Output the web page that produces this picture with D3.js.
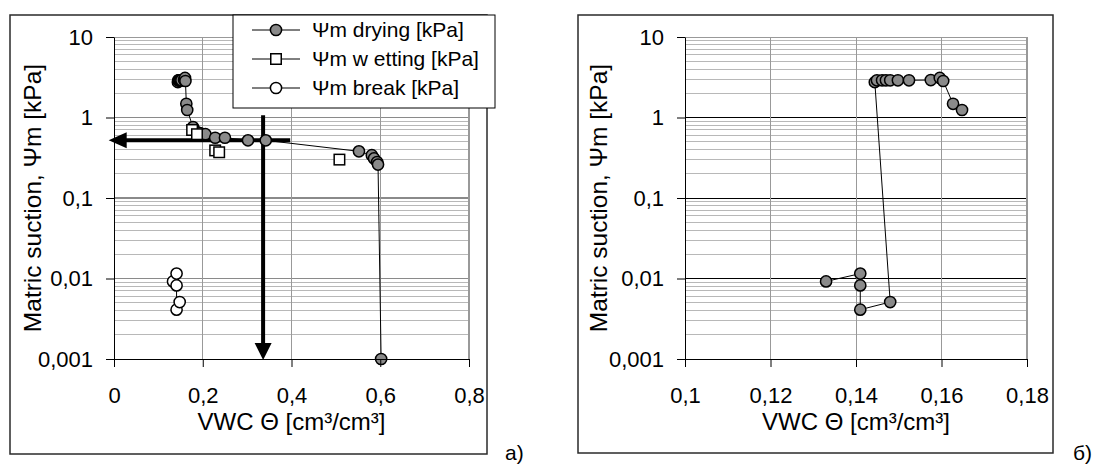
<!DOCTYPE html>
<html><head><meta charset="utf-8">
<script src="https://cdn.jsdelivr.net/npm/d3@7"></script>
<style>
body{margin:0;background:#fff}
svg{display:block}
text{font-family:"Liberation Sans",Arial,sans-serif;fill:#000}
</style>
</head><body>
<svg id="c" width="1098" height="466"></svg>
<script>
// ---- tick values & labels ----
const yTickValues = [0.001, 0.01, 0.1, 1, 10];
const yTickLabels = ["0,001", "0,01", "0,1", "1", "10"];
const leftXTickValues = [0, 0.2, 0.4, 0.6, 0.8];
const leftXTickLabels = ["0", "0,2", "0,4", "0,6", "0,8"];
const rightXTickValues = [0.1, 0.12, 0.14, 0.16, 0.18];
const rightXTickLabels = ["0,1", "0,12", "0,14", "0,16", "0,18"];
const minorMultipliers = [2, 3, 4, 5, 6, 7, 8, 9];

// ---- legend / titles ----
const seriesNames = ["Ψm drying [kPa]", "Ψm w etting [kPa]", "Ψm break [kPa]"];
const xTitle = "VWC Θ [cm³/cm³]";
const yTitle = "Matric suction, Ψm [kPa]";
const panelTags = ["а)", "б)"];

// ---- panel a) series ----
const dryingX = [0.144, 0.145, 0.146, 0.147, 0.148, 0.150, 0.152, 0.158, 0.160, 0.161, 0.163, 0.165,
                 0.178, 0.183, 0.194, 0.206, 0.228, 0.250, 0.302, 0.342, 0.552, 0.581, 0.586, 0.593, 0.595, 0.602];
const dryingY = [2.75, 2.90, 2.90, 2.90, 2.90, 2.90, 2.90, 2.92, 3.10, 2.84, 1.48, 1.24,
                 0.76, 0.68, 0.64, 0.62, 0.56, 0.56, 0.52, 0.52, 0.38, 0.34, 0.31, 0.28, 0.26, 0.001];
const wettingX = [0.176, 0.187, 0.228, 0.237, 0.508];
const wettingY = [0.70, 0.62, 0.39, 0.37, 0.30];
const breakX = [0.133, 0.141, 0.141, 0.141, 0.148];
const breakY = [0.0092, 0.0115, 0.0082, 0.0041, 0.0051];

// ---- panel a) arrows (annotation, data coords) ----
const arrowVertX = [0.336, 0.336];
const arrowVertY = [1.07, 0.001];
const arrowHorX = [0.397, -0.012];
const arrowHorY = [0.52, 0.52];

// ---- panel б) series ----
const zoomX = [0.133, 0.141, 0.141, 0.141, 0.148,
               0.1444, 0.1449, 0.1461, 0.1470, 0.1480, 0.1498, 0.1524, 0.1575, 0.1596, 0.1604, 0.1627, 0.1648];
const zoomY = [0.0092, 0.0115, 0.0082, 0.0041, 0.0051,
               2.75, 2.90, 2.90, 2.90, 2.90, 2.90, 2.90, 2.92, 3.10, 2.84, 1.48, 1.24];

const svg = d3.select("#c");
const GRAY_FILL = "#8a8a8a";

function zip(xs, ys){ return xs.map((x,i)=>({x, y: ys[i]})); }

function drawPanel(cfg){
  const g = svg.append("g");
  // frame
  g.append("rect").attr("x", cfg.frame[0]).attr("y", cfg.frame[1])
    .attr("width", cfg.frame[2]-cfg.frame[0]).attr("height", cfg.frame[3]-cfg.frame[1])
    .attr("fill", "#fff").attr("stroke", "#2a2a2a").attr("stroke-width", 1.5);

  const x = d3.scaleLinear().domain(cfg.xDomain).range([cfg.plot[0], cfg.plot[1]]);
  const y = d3.scaleLog().domain([0.001, 10]).range([cfg.plot[3], cfg.plot[2]]);

  const grid = g.append("g").attr("shape-rendering", "crispEdges");
  // minor horizontal gridlines
  const minors = [];
  yTickValues.slice(0, -1).forEach(d => minorMultipliers.forEach(k => minors.push(d*k)));
  grid.selectAll("line.mi").data(minors).join("line")
    .attr("x1", cfg.plot[0]).attr("x2", cfg.plot[1])
    .attr("y1", d => y(d)).attr("y2", d => y(d))
    .attr("stroke", "#b8b8b8").attr("stroke-width", 1);
  // decade gridlines
  grid.selectAll("line.ma").data(yTickValues.slice(1)).join("line")
    .attr("x1", cfg.plot[0]).attr("x2", cfg.plot[1])
    .attr("y1", d => y(d)).attr("y2", d => y(d))
    .attr("stroke", d => d === 10 ? "#999" : cfg.decadeColor)
    .attr("stroke-width", d => d === 10 ? 1 : cfg.decadeWidth);
  // vertical gridlines
  grid.selectAll("line.v").data(cfg.xTicks.slice(1)).join("line")
    .attr("x1", d => x(d)).attr("x2", d => x(d))
    .attr("y1", cfg.plot[2]).attr("y2", cfg.plot[3])
    .attr("stroke", "#999").attr("stroke-width", (d,i,n) => i === n.length-1 ? 2 : 1);

  const line = d3.line().x(d => x(d.x)).y(d => y(d.y));
  const marks = g.append("g");

  // series lines
  cfg.series.forEach(s => {
    const pts = zip(s.xs, s.ys);
    if (s.line) marks.append("path").datum(pts).attr("d", line)
      .attr("fill", "none").attr("stroke", "#000").attr("stroke-width", 1);
  });
  // annotations (arrows) drawn under markers
  if (cfg.arrows) cfg.arrows(g, x, y);
  const markG = g.append("g");
  cfg.series.forEach(s => {
    const pts = zip(s.xs, s.ys);
    if (s.shape === "square") {
      markG.append("g").selectAll("rect").data(pts).join("rect")
        .attr("x", d => x(d.x)-5.25).attr("y", d => y(d.y)-5.25)
        .attr("width", 10.5).attr("height", 10.5)
        .attr("fill", s.fill).attr("stroke", "#000").attr("stroke-width", 1.5);
    } else {
      markG.append("g").selectAll("circle").data(pts).join("circle")
        .attr("cx", d => x(d.x)).attr("cy", d => y(d.y)).attr("r", 5.6)
        .attr("fill", s.fill).attr("stroke", "#000").attr("stroke-width", 1.5);
    }
  });

  // axes
  const ax = g.append("g").attr("transform", `translate(${cfg.plot[0]},0)`)
    .call(d3.axisLeft(y).tickValues(yTickValues).tickFormat((d,i) => yTickLabels[i])
      .tickSize(8).tickSizeOuter(0).tickPadding(13));
  const bx = g.append("g").attr("transform", `translate(0,${cfg.plot[3]})`)
    .call(d3.axisBottom(x).tickValues(cfg.xTicks).tickFormat((d,i) => cfg.xLabels[i])
      .tickSize(8).tickSizeOuter(0).tickPadding(20));
  [ax, bx].forEach(a => {
    a.attr("font-family", null).attr("font-size", null);
    a.selectAll("text").style("font-size", "22px");
    a.selectAll("line, path").attr("stroke", "#000").attr("stroke-width", 1);
  });

  // titles
  g.append("text").attr("x", (cfg.plot[0]+cfg.plot[1])/2).attr("y", 430)
    .attr("text-anchor", "middle").style("font-size", "24px").text(xTitle);
  g.append("text").attr("transform", `translate(${cfg.yTitleX},${(cfg.plot[2]+cfg.plot[3])/2}) rotate(-90)`)
    .attr("text-anchor", "middle").attr("dy", "0.35em").style("font-size", "24.5px").text(yTitle);
  svg.append("text").attr("x", cfg.tagX).attr("y", 460).style("font-size", "21px").text(cfg.tag);

  return {g, x, y};
}

function arrowsA(g, x, y){
  const a = g.append("g");
  const vx = x(arrowVertX[0]), vy0 = y(arrowVertY[0]), vy1 = y(arrowVertY[1]);
  a.append("line").attr("x1", vx).attr("x2", vx).attr("y1", vy0).attr("y2", vy1-14)
    .attr("stroke", "#000").attr("stroke-width", 4);
  a.append("path").attr("d", `M${vx},${vy1+1}L${vx-8.5},${vy1-16}L${vx+8.5},${vy1-16}Z`).attr("fill", "#000");
  const hy = y(arrowHorY[0]), hx0 = x(arrowHorX[0]), hx1 = x(arrowHorX[1]);
  a.append("line").attr("x1", hx0).attr("x2", hx1+14).attr("y1", hy).attr("y2", hy)
    .attr("stroke", "#000").attr("stroke-width", 4);
  a.append("path").attr("d", `M${hx1},${hy}L${hx1+18},${hy-8}L${hx1+18},${hy+8}Z`).attr("fill", "#000");
}

drawPanel({
  frame: [10, 15, 487, 454],
  plot: [114, 469, 37, 359],
  xDomain: [0, 0.8],
  xTicks: leftXTickValues, xLabels: leftXTickLabels,
  decadeColor: "#8a8a8a", decadeWidth: 1.5,
  yTitleX: 32, tag: panelTags[0], tagX: 505,
  arrows: arrowsA,
  series: [
    {xs: breakX, ys: breakY, shape: "circle", fill: "#fff", line: true},
    {xs: dryingX, ys: dryingY, shape: "circle", fill: GRAY_FILL, line: true},
    {xs: wettingX, ys: wettingY, shape: "square", fill: "#fff", line: false}
  ]
});

drawPanel({
  frame: [578, 15, 1053, 453],
  plot: [685, 1027, 37, 359],
  xDomain: [0.1, 0.18],
  xTicks: rightXTickValues, xLabels: rightXTickLabels,
  decadeColor: "#000", decadeWidth: 1,
  yTitleX: 598, tag: panelTags[1], tagX: 1073,
  series: [
    {xs: zoomX, ys: zoomY, shape: "circle", fill: GRAY_FILL, line: true}
  ]
});

// legend (panel a)
const leg = svg.append("g");
leg.append("rect").attr("x", 233).attr("y", 15).attr("width", 262).attr("height", 93)
  .attr("fill", "#fff").attr("stroke", "#000").attr("stroke-width", 1);
const legShapes = [{shape: "circle", fill: GRAY_FILL}, {shape: "square", fill: "#fff"}, {shape: "circle", fill: "#fff"}];
const legRows = d3.scaleLinear().domain([0, 2]).range([30, 88]);
seriesNames.forEach((name, i) => {
  const cy = legRows(i);
  leg.append("line").attr("x1", 252).attr("x2", 300).attr("y1", cy).attr("y2", cy)
    .attr("stroke", "#000").attr("stroke-width", 1);
  if (legShapes[i].shape === "square") {
    leg.append("rect").attr("x", 276-5.25).attr("y", cy-5.25).attr("width", 10.5).attr("height", 10.5)
      .attr("fill", legShapes[i].fill).attr("stroke", "#000").attr("stroke-width", 1.5);
  } else {
    leg.append("circle").attr("cx", 276).attr("cy", cy).attr("r", 5.6)
      .attr("fill", legShapes[i].fill).attr("stroke", "#000").attr("stroke-width", 1.5);
  }
  leg.append("text").attr("x", 312).attr("y", cy).attr("dy", "0.35em")
    .style("font-size", "21px").text(name);
});
</script>
</body></html>
